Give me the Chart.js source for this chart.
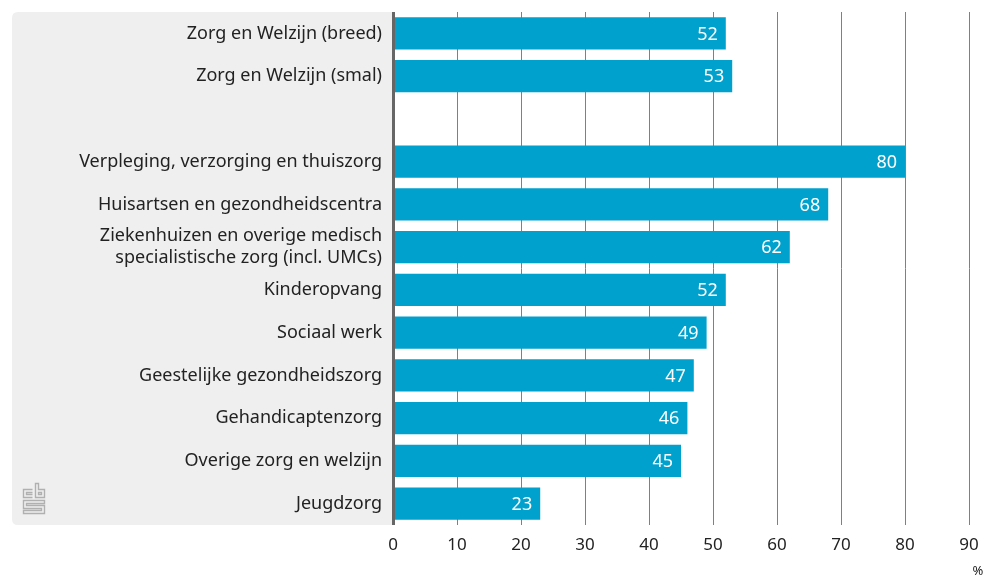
<!DOCTYPE html>
<html><head><meta charset="utf-8">
<script src="https://cdn.jsdelivr.net/npm/chart.js@4/dist/chart.umd.min.js"></script>
<style>html,body{margin:0;padding:0;background:#fff;}#wrap{width:992px;height:578px;position:relative;}</style>
</head><body><div id="wrap"><canvas id="c" width="992" height="578"></canvas></div>
<script>
const categories = [
  "Zorg en Welzijn (breed)",
  "Zorg en Welzijn (smal)",
  "",
  "Verpleging, verzorging en thuiszorg",
  "Huisartsen en gezondheidscentra",
  ["Ziekenhuizen en overige medisch", "specialistische zorg (incl. UMCs)"],
  "Kinderopvang",
  "Sociaal werk",
  "Geestelijke gezondheidszorg",
  "Gehandicaptenzorg",
  "Overige zorg en welzijn",
  "Jeugdzorg"
];
const values = [52, 53, null, 80, 68, 62, 52, 49, 47, 46, 45, 23];
const xTicks = [0, 10, 20, 30, 40, 50, 60, 70, 80, 90];
const unitLabel = "%";

const FONT = "'Noto Sans', sans-serif";

const bgPlugin = {
  id: 'bg',
  beforeDraw(chart) {
    const {ctx, chartArea} = chart;
    const x0 = 12, x1 = chartArea.left, y0 = chartArea.top, y1 = chartArea.bottom, r = 6;
    ctx.save();
    ctx.fillStyle = '#efefef';
    ctx.beginPath();
    ctx.moveTo(x1, y0);
    ctx.lineTo(x0 + r, y0);
    ctx.quadraticCurveTo(x0, y0, x0, y0 + r);
    ctx.lineTo(x0, y1 - r);
    ctx.quadraticCurveTo(x0, y1, x0 + r, y1);
    ctx.lineTo(x1, y1);
    ctx.closePath();
    ctx.fill();
    // CBS logo
    ctx.strokeStyle = '#b0b0b0';
    ctx.lineWidth = 1.4;
    const lx = 23, ly = 482;
    ctx.beginPath();
    // c
    ctx.moveTo(lx + 9.5, ly + 7.5); ctx.lineTo(lx + 0.5, ly + 7.5); ctx.lineTo(lx + 0.5, ly + 15.5); ctx.lineTo(lx + 9.5, ly + 15.5);
    ctx.moveTo(lx + 9.5, ly + 10.5); ctx.lineTo(lx + 3.5, ly + 10.5); ctx.lineTo(lx + 3.5, ly + 12.5); ctx.lineTo(lx + 9.5, ly + 12.5);
    // b
    ctx.moveTo(lx + 12.5, ly + 1.5); ctx.lineTo(lx + 12.5, ly + 15.5); ctx.lineTo(lx + 21.5, ly + 15.5); ctx.lineTo(lx + 21.5, ly + 7.5); ctx.lineTo(lx + 15.5, ly + 7.5); ctx.lineTo(lx + 15.5, ly + 1.5); ctx.closePath();
    ctx.rect(lx + 15.5, ly + 10.5, 3, 2);
    // s
    ctx.moveTo(lx + 21.5, ly + 18.5); ctx.lineTo(lx + 0.5, ly + 18.5); ctx.lineTo(lx + 0.5, ly + 26.5); ctx.lineTo(lx + 18.5, ly + 26.5); ctx.lineTo(lx + 18.5, ly + 28.5); ctx.lineTo(lx + 0.5, ly + 28.5); ctx.lineTo(lx + 0.5, ly + 31.5); ctx.lineTo(lx + 21.5, ly + 31.5); ctx.lineTo(lx + 21.5, ly + 23.5); ctx.lineTo(lx + 3.5, ly + 23.5); ctx.lineTo(lx + 3.5, ly + 21.5); ctx.lineTo(lx + 21.5, ly + 21.5); ctx.closePath();
    ctx.stroke();
    ctx.restore();
  },
  afterDatasetsDraw(chart) {
    const {ctx, chartArea} = chart;
    const meta = chart.getDatasetMeta(0);
    ctx.save();
    // axis line
    ctx.strokeStyle = '#666';
    ctx.lineWidth = 3;
    ctx.beginPath();
    ctx.moveTo(chartArea.left + 0.5, chartArea.top);
    ctx.lineTo(chartArea.left + 0.5, chartArea.bottom);
    ctx.stroke();
    // value labels
    ctx.fillStyle = '#ffffff';
    ctx.font = "18px " + FONT;
    ctx.textAlign = 'right';
    ctx.textBaseline = 'middle';
    meta.data.forEach((bar, i) => {
      const v = values[i];
      if (v === null) return;
      ctx.fillText(String(v), bar.x - 8, bar.y + 1);
    });
    // unit label
    ctx.fillStyle = '#222';
    ctx.font = "13px " + FONT;
    ctx.textAlign = 'center';
    ctx.fillText(unitLabel, 978, 571);
    ctx.restore();
  }
};

new Chart(document.getElementById('c'), {
  type: 'bar',
  data: {
    labels: categories,
    datasets: [{
      data: values,
      backgroundColor: '#00a1cd',
      borderWidth: 0,
      barPercentage: 0.76,
      categoryPercentage: 1.0
    }]
  },
  options: {
    indexAxis: 'y',
    responsive: false,
    animation: false,
    events: [],
    layout: { padding: { top: 12, right: 23, bottom: 0, left: 0 } },
    plugins: { legend: { display: false }, tooltip: { enabled: false } },
    scales: {
      x: {
        min: 0, max: 90,
        afterBuildTicks(scale) { scale.ticks = xTicks.map(v => ({ value: v })); },
        grid: { color: '#808080', lineWidth: 1, drawTicks: false },
        border: { display: false },
        ticks: { color: '#222', font: { family: FONT, size: 17 }, padding: 10, autoSkip: false, maxRotation: 0 },
        afterFit(scale) { scale.height = 53; }
      },
      y: {
        grid: { display: false, drawTicks: false },
        border: { display: false },
        ticks: { color: '#222', font: { family: FONT, size: 18, lineHeight: 1.2 }, padding: 11, autoSkip: false },
        afterFit(scale) { scale.width = 393; scale.paddingTop = 0; scale.paddingBottom = 0; }
      }
    }
  },
  plugins: [bgPlugin]
});
</script>
</body></html>
